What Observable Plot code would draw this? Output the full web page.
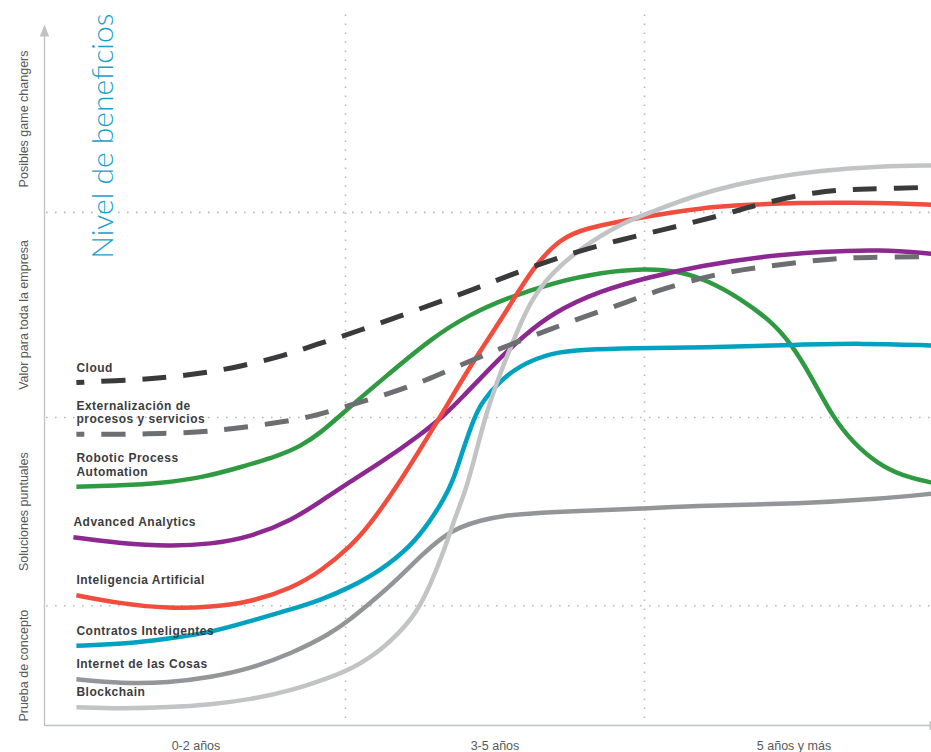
<!DOCTYPE html>
<html><head><meta charset="utf-8">
<script src="https://cdn.jsdelivr.net/npm/d3@7"></script>
<script src="https://cdn.jsdelivr.net/npm/@observablehq/plot@0.6"></script>
<style>
html,body{margin:0;padding:0;background:#fff;overflow:hidden;}
#chart{width:931px;height:752px;}
</style></head><body><div id="chart"></div>
<script>
// ---- data ----
const title = "Nivel de beneficios";
const periods = ["0-2 años", "3-5 años", "5 años y más"];
const levels = ["Prueba de concepto", "Soluciones puntuales", "Valor para toda la empresa", "Posibles game changers"];
const levelBreaks = [0, 17.1, 44, 73.3, 100];

const names = ["Cloud", "Externalización de\nprocesos y servicios", "Robotic Process\nAutomation", "Advanced Analytics", "Inteligencia Artificial", "Contratos Inteligentes", "Internet de las Cosas", "Blockchain"];
const colors = ["#3a3a3c", "#6d6e71", "#2f9a41", "#8c288f", "#f04d3f", "#00a2bf", "#939598", "#c2c3c5"];
const dashed = [true, true, false, false, false, false, false, false];

const cloud = [[0.10,49.0],[0.25,49.3],[0.38,49.6],[0.52,50.3],[0.65,51.3],[0.80,52.9],[0.90,54.4],[1.04,56.3],[1.24,59.4],[1.43,62.3],[1.63,65.7],[1.84,68.6],[2.08,71.0],[2.26,72.9],[2.40,74.7],[2.58,76.3],[2.70,76.6],[2.81,76.7],[2.96,76.9]];
const externalizacion = [[0.10,41.6],[0.25,41.6],[0.38,41.7],[0.52,41.9],[0.62,42.4],[0.75,43.1],[0.88,44.0],[1.01,45.7],[1.14,47.3],[1.27,49.3],[1.39,51.6],[1.52,53.9],[1.69,56.7],[1.81,58.6],[1.93,60.3],[2.04,62.1],[2.16,63.6],[2.29,64.9],[2.41,65.6],[2.54,66.3],[2.66,66.8],[2.79,66.9],[2.96,67.0]];
const rpa = [[0.10,34.1],[0.25,34.3],[0.38,34.6],[0.52,35.4],[0.65,36.9],[0.78,38.6],[0.85,39.9],[0.92,41.9],[0.99,44.6],[1.13,49.7],[1.29,55.4],[1.41,58.6],[1.54,61.1],[1.70,63.3],[1.85,64.7],[2.00,65.3],[2.12,64.9],[2.22,63.4],[2.32,61.0],[2.42,57.9],[2.49,54.6],[2.56,49.7],[2.63,44.0],[2.70,40.3],[2.78,37.4],[2.86,35.7],[2.96,34.7]];
const analytics = [[0.09,26.9],[0.25,26.0],[0.41,25.6],[0.55,25.9],[0.68,26.9],[0.82,29.3],[0.92,32.1],[1.00,34.4],[1.12,37.6],[1.25,41.5],[1.33,44.3],[1.38,46.4],[1.52,52.7],[1.59,55.4],[1.69,58.9],[1.85,62.1],[2.02,64.1],[2.19,65.7],[2.39,67.0],[2.59,67.7],[2.79,68.0],[2.96,67.4]];
const ia = [[0.10,18.6],[0.25,17.4],[0.41,16.7],[0.55,16.9],[0.68,17.6],[0.82,19.6],[0.92,22.1],[1.02,25.7],[1.08,28.6],[1.18,34.6],[1.32,44.3],[1.42,51.6],[1.52,57.9],[1.63,65.7],[1.72,69.6],[1.80,71.0],[1.96,72.4],[2.19,74.0],[2.35,74.4],[2.52,74.7],[2.69,74.7],[2.86,74.6],[2.96,74.4]];
const contratos = [[0.10,11.4],[0.25,11.6],[0.41,12.4],[0.55,13.3],[0.68,14.9],[0.82,16.6],[0.92,18.0],[1.01,19.6],[1.12,22.2],[1.22,25.7],[1.28,29.0],[1.33,32.4],[1.36,35.0],[1.39,39.0],[1.43,44.0],[1.46,46.4],[1.51,48.9],[1.58,51.4],[1.69,53.3],[1.80,53.7],[1.96,53.9],[2.19,54.0],[2.52,54.4],[2.72,54.6],[2.96,54.3]];
const iot = [[0.10,6.6],[0.25,6.0],[0.41,6.1],[0.55,6.9],[0.68,8.1],[0.82,10.3],[0.95,13.1],[1.02,15.3],[1.08,17.4],[1.17,20.7],[1.26,24.6],[1.33,27.1],[1.38,28.3],[1.45,29.3],[1.53,30.0],[1.62,30.3],[1.74,30.6],[2.00,31.0],[2.19,31.4],[2.52,31.7],[2.79,32.4],[2.96,33.1]];
const blockchain = [[0.10,2.6],[0.25,2.4],[0.41,2.6],[0.55,3.0],[0.68,3.7],[0.82,5.0],[0.95,6.9],[1.02,8.1],[1.12,10.7],[1.23,15.4],[1.28,19.7],[1.33,25.0],[1.36,29.0],[1.40,33.3],[1.43,37.9],[1.47,44.6],[1.52,50.7],[1.58,56.9],[1.62,60.7],[1.69,64.7],[1.79,68.3],[1.92,71.7],[2.02,73.3],[2.19,76.1],[2.39,78.1],[2.59,79.3],[2.79,79.9],[2.96,80.0]];

const seriesValues = [cloud, externalizacion, rpa, analytics, ia, contratos, iot, blockchain];
const drawOrder = [2, 3, 4, 5, 6, 7, 1, 0];

// ---- marks ----
const gridStyle = {stroke: "#b9b9b9", strokeWidth: 1.6, strokeDasharray: "1.6 7.4"};
const axisColor = "#c0c1c3";
const marks = [];
marks.push(Plot.ruleY(levelBreaks.slice(1, -1), {x1: 0, x2: 3, ...gridStyle}));
marks.push(Plot.ruleX([1, 2], {y1: 1, y2: 101.5, ...gridStyle}));
marks.push(Plot.ruleY([0], {stroke: axisColor, strokeWidth: 1.3}));
marks.push(Plot.ruleX([0], {y1: 0, y2: 99, dx: -2, stroke: axisColor, strokeWidth: 1.3}));
marks.push(Plot.vector([0], {frameAnchor: "top-left", shape: "spike", anchor: "start", length: 12, r: 4.7, dy: 25, fill: axisColor, stroke: "none"}));
marks.push(Plot.vector([0], {frameAnchor: "bottom-right", shape: "spike", anchor: "start", length: 12, r: 4.7, rotate: 90, dx: -2, fill: axisColor, stroke: "none"}));

for (const i of drawOrder) {
  marks.push(Plot.line(seriesValues[i], {
    x: d => d[0], y: d => d[1],
    stroke: colors[i],
    strokeWidth: dashed[i] ? 5 : 4.5,
    strokeDasharray: dashed[i] ? "24 17" : undefined,
    strokeDashoffset: dashed[i] ? 16 : undefined,
    strokeLinecap: "butt",
    curve: "basis"
  }));
}

const labelRows = names.map((n, i) => ({n, x: seriesValues[i][0][0], y: seriesValues[i][0][1]}));
marks.push(Plot.text(labelRows, {
  x: "x", y: "y", text: "n", textAnchor: "start", lineAnchor: "bottom", dy: -11,
  fontSize: 12, fontWeight: "bold", fill: "#3c3c3e", lineHeight: 1.15,
  ariaDescription: "series-labels"
}));

marks.push(Plot.text(periods, {x: (d, i) => i + 0.5, frameAnchor: "bottom", textAnchor: "middle", lineAnchor: "top", dy: 15.5, fontSize: 12.5, fill: "#58595b"}));
marks.push(Plot.text(levels, {y: (d, i) => (levelBreaks[i] + levelBreaks[i + 1]) / 2, frameAnchor: "left", textAnchor: "middle", lineAnchor: "middle", dx: -21, rotate: -90, fontSize: 12.5, fill: "#58595b"}));
marks.push(Plot.text([title], {frameAnchor: "top-left", rotate: -90, textAnchor: "end", lineAnchor: "bottom", dx: 68, dy: 2, fontSize: 30, fontFamily: "Lato", fontWeight: 300, fill: "#1a9fcb"}));

const plot = Plot.plot({
  width: 931, height: 752,
  marginTop: 11, marginBottom: 27, marginLeft: 44, marginRight: 0,
  x: {domain: [0, 3], range: [46, 943], axis: null},
  y: {domain: [0, 102], range: [725, 11], axis: null},
  style: {background: "#fff", fontFamily: "'Liberation Sans', Arial, sans-serif", overflow: "hidden"},
  marks
});
d3.select(plot).selectAll('g[aria-description="series-labels"]').style("letter-spacing", "0.5px");
document.getElementById("chart").appendChild(plot);
</script>
</body></html>
